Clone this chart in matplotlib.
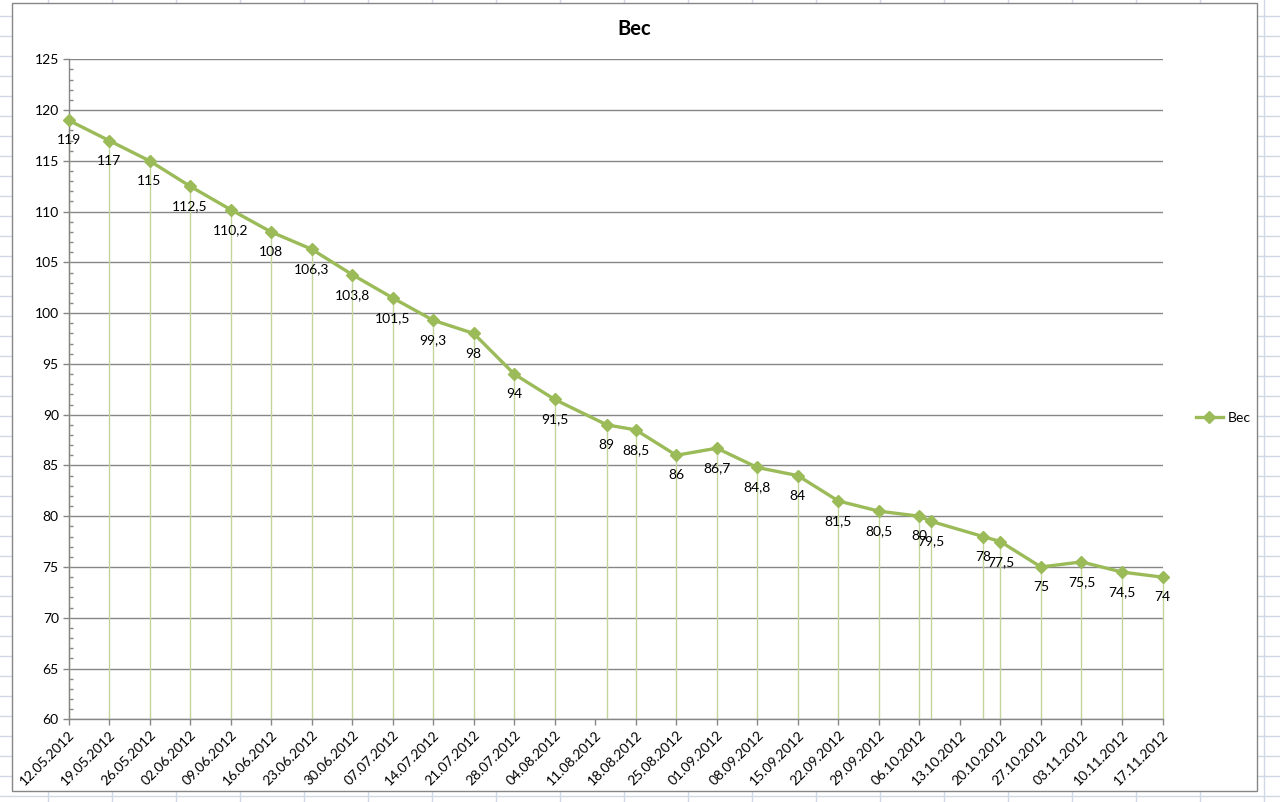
import datetime as dt

import matplotlib
matplotlib.use("Agg")
import matplotlib.pyplot as plt
import matplotlib.dates as mdates
from matplotlib.lines import Line2D
from matplotlib.patches import Rectangle
from matplotlib.ticker import MultipleLocator

# данные: дата взвешивания и вес
dates = ["12.05.2012", "19.05.2012", "26.05.2012", "02.06.2012", "09.06.2012",
         "16.06.2012", "23.06.2012", "30.06.2012", "07.07.2012", "14.07.2012",
         "21.07.2012", "28.07.2012", "04.08.2012", "13.08.2012", "18.08.2012",
         "25.08.2012", "01.09.2012", "08.09.2012", "15.09.2012", "22.09.2012",
         "29.09.2012", "06.10.2012", "08.10.2012", "17.10.2012", "20.10.2012",
         "27.10.2012", "03.11.2012", "10.11.2012", "17.11.2012"]
weight = [119, 117, 115, 112.5, 110.2, 108, 106.3, 103.8, 101.5, 99.3,
          98, 94, 91.5, 89, 88.5, 86, 86.7, 84.8, 84, 81.5,
          80.5, 80, 79.5, 78, 77.5, 75, 75.5, 74.5, 74]
series_name = "Вес"
x_start, x_end = "12.05.2012", "17.11.2012"

W, H = 1280, 802
GREEN = "#9BBB59"
DROP = "#C2D69B"
GRAY = "#868686"

plt.rcParams.update({"font.family": ["Lato", "DejaVu Sans"], "font.size": 10})


def parse(s):
    return dt.datetime.strptime(s, "%d.%m.%Y")


def fx(px):
    return px / W


def fy(py):
    return 1 - py / H


fig = plt.figure(figsize=(W / 100, H / 100), dpi=100)

# сетка листа Excel за диаграммой
for k in range(41):
    y = 16 + 20 * k
    fig.add_artist(Line2D([0, 1], [fy(y), fy(y)], transform=fig.transFigure,
                          color="#D0D7E5", lw=1, zorder=-3))
for k in range(21):
    x = 48 + 64 * k
    fig.add_artist(Line2D([fx(x), fx(x)], [0, 1], transform=fig.transFigure,
                          color="#D0D7E5", lw=1, zorder=-3))
fig.add_artist(Rectangle((fx(11.5), fy(791)), fx(1257 - 11.5), (791 - 3) / H,
                         transform=fig.transFigure, facecolor="white",
                         edgecolor=GRAY, lw=1, zorder=-2))

ax = fig.add_axes([fx(68.5), fy(719.3), fx(1162.5 - 68.5), (719.3 - 59.3) / H])
ax.set_facecolor("none")

xs = [parse(d) for d in dates]
ax.vlines(xs, 60, weight, color=DROP, lw=1, zorder=1, clip_on=False)
line, = ax.plot(xs, weight, color=GREEN, lw=2.4, marker="D", markersize=6,
                zorder=3, label=series_name, clip_on=False)
for x, v in zip(xs, weight):
    ax.annotate(f"{v:g}".replace(".", ","), (x, v), xytext=(0, -14.5),
                textcoords="offset points", ha="center", va="center",
                fontsize=10, zorder=4)

ax.set_xlim(parse(x_start), parse(x_end))
ax.set_ylim(60, 125)
ax.xaxis.set_major_locator(mdates.WeekdayLocator(byweekday=mdates.SA))
ax.xaxis.set_major_formatter(mdates.DateFormatter("%d.%m.%Y"))
ax.yaxis.set_major_locator(MultipleLocator(5))
ax.yaxis.set_minor_locator(MultipleLocator(1))
plt.setp(ax.get_xticklabels(), rotation=45, ha="right", rotation_mode="anchor")

ax.grid(axis="y", which="major", color=GRAY, lw=1)
ax.set_axisbelow(True)
for s in ("top", "right"):
    ax.spines[s].set_visible(False)
for s in ("left", "bottom"):
    ax.spines[s].set_color(GRAY)
    ax.spines[s].set_linewidth(1)
ax.tick_params(axis="x", which="major", direction="out", length=4, color=GRAY,
               width=1, pad=3, labelsize=10)
ax.tick_params(axis="y", which="major", direction="out", length=4, color=GRAY,
               width=1, pad=3, labelsize=10)
ax.tick_params(axis="y", which="minor", direction="in", length=3, color=GRAY,
               width=1)

fig.text(fx(634), fy(29), series_name, ha="center", va="center",
         fontsize=14.5, fontweight="bold")
fig.legend(handles=[line], loc="center left",
           bbox_to_anchor=(fx(1183), fy(418)), frameon=False,
           handlelength=2.0, handletextpad=0.3, fontsize=10)

fig.savefig("out.png", dpi=100)
